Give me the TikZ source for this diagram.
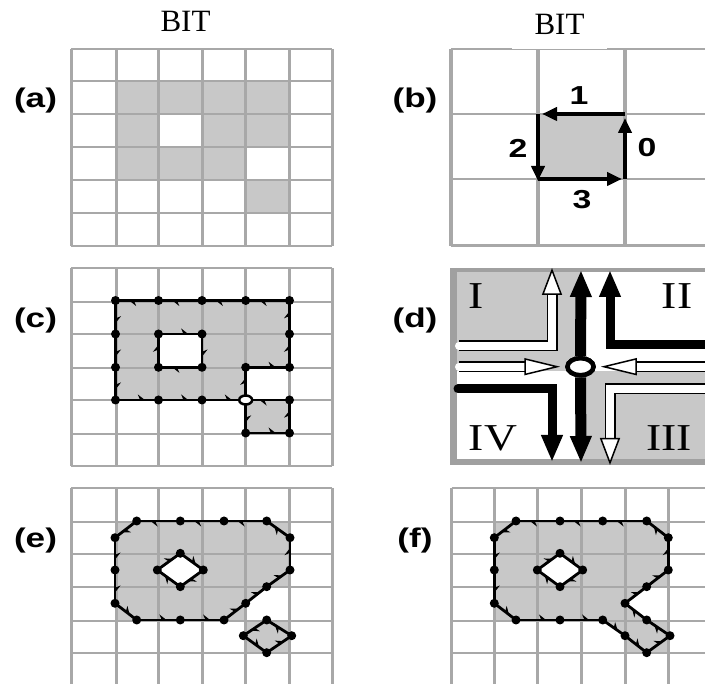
\documentclass[tikz,border=0pt]{standalone}
\usepackage{fontspec}
\usepackage{xcolor}
\usetikzlibrary{
  arrows.meta,
  decorations.markings,
  shapes.geometric
}
\newfontfamily\panelfont[FakeStretch=1.3]{Liberation Sans}
\newfontfamily\romanfont[FakeStretch=1.2]{Liberation Serif}
\newfontfamily\titlefont{Liberation Serif}
\definecolor{gridgray}{RGB}{168,168,168}
\definecolor{cellgray}{RGB}{200,200,200}
\definecolor{edgegray}{RGB}{160,160,160}
\tikzset{
  gridline/.style={draw=gridgray,line width=2pt},
  gridrise/.style={draw=gridgray,line width=3pt},
  coarseline/.style={draw=gridgray,line width=2.8pt},
  coarserise/.style={draw=gridgray,line width=4pt},
  cell/.style={fill=cellgray},
  contour/.style={draw=black,line width=2.8pt,postaction={decorate,decoration={markings,
    mark=at position 0.7 with {\arrow{Stealth[harpoon,length=7pt,width=11pt]}}}}},
  vertex/.style={circle,fill=black,inner sep=0pt,minimum size=9pt},
  openvertex/.style={ellipse,draw=black,fill=white,line width=2.5pt,inner sep=0pt,
    minimum width=13pt,minimum height=9pt},
  hubnode/.style={ellipse,draw=black,fill=white,line width=4.5pt,inner sep=0pt,
    minimum width=26pt,minimum height=17pt},
  edgeflow/.style={draw=black,line width=4pt,-{Triangle[length=15pt,width=13pt]}},
  blackflow/.style={draw=black,line width=9pt,-{Triangle[length=27pt,width=20pt]}},
  whiteflow/.style={draw=white,line width=8pt,line cap=round,
    -{Triangle[length=27pt,width=20pt,color=black,fill=white,line width=1.5pt]},
    preaction={draw=black,line width=11pt,-,shorten >=20pt}},
  whitedart/.style={draw=white,line width=8pt,line cap=round,shorten >=5pt,
    -{Triangle[length=36pt,width=17pt,color=black,fill=white,line width=1.5pt]},
    preaction={draw=black,line width=11pt,-,shorten >=30pt}},
  titlelab/.style={font=\titlefont\fontsize{31}{31}\selectfont,inner sep=0pt},
  panellab/.style={font=\panelfont\bfseries\fontsize{27}{27}\selectfont,inner sep=0pt},
  digitlab/.style={font=\panelfont\bfseries\fontsize{26}{26}\selectfont,inner sep=0pt},
  romanlab/.style={font=\romanfont\fontsize{38}{38}\selectfont,inner sep=0pt}
}

\begin{document}
\begin{tikzpicture}[x=1pt,y=-1pt]
  \useasboundingbox (0,0) rectangle (705,684);
  % panel a
  \fill[cell] (116.5,81) rectangle (289.5,114);
  \fill[cell] (116.5,114) rectangle (158.5,146.7);
  \fill[cell] (202,114) rectangle (289.5,146.7);
  \fill[cell] (116.5,146.7) rectangle (245.7,180);
  \fill[cell] (245.7,180) rectangle (289.5,212.7);
  \foreach \x in {71,116.5,158.5,202,245.7,289.5,332}
    \draw[gridrise] (\x,49) -- (\x,246);
  \foreach \y in {49,81,114,146.7,180,212.7,246}
    \draw[gridline] (71,\y) -- (332,\y);
  % panel b
  \coordinate (tl) at (538,114);
  \coordinate (tr) at (625,114);
  \coordinate (br) at (625,179);
  \coordinate (bl) at (538,179);
  \fill[cell] (tl) rectangle (br);
  \foreach \x in {451,538,625}
    \draw[coarserise] (\x,49) -- (\x,245.6);
  \foreach \y in {49,114,179,245.6}
    \draw[coarseline] (451,\y) -- (705,\y);
  \draw[edgeflow] (br) -- ([yshift=-4pt]tr);
  \draw[edgeflow] (tr) -- ([xshift=4pt]tl);
  \draw[edgeflow] (tl) -- ([yshift=-2pt]bl);
  \draw[edgeflow] (bl) -- ([xshift=-3pt]br);
  \node[digitlab] (one) at (579,96) {1};
  \node[digitlab] (zero) at (647,148) {0};
  \node[digitlab] (two) at (518,148) {2};
  \node[digitlab] (three) at (582,200) {3};
  % panel c
  \foreach \n/\x/\y in {c1/289.5/367.3,c2/289.5/334,c3/289.5/300.5,c4/245.7/300.5,
    c5/202/300.5,c6/158.5/300.5,c7/115.5/300.5,c8/115.5/334,c9/115.5/367.3,
    c10/115.5/400,c11/158.5/400,c12/202/400,c13/245.7/400,c14/245.7/367.3,
    ch1/158.5/334,ch2/202/334,ch3/202/367.3,ch4/158.5/367.3,
    cs1/245.7/400,cs2/245.7/433,cs3/289.5/433,cs4/289.5/400}
    \coordinate (\n) at (\x,\y);
  \fill[cell] (c1) -- (c3) -- (c7) -- (c10) -- (c13) -- (c14) -- cycle;
  \fill[cell] (cs1) rectangle (cs3);
  \fill[white] (ch1) rectangle (ch3);
  \foreach \x in {71,116.5,158.5,202,245.7,289.5,332}
    \draw[gridrise] (\x,268) -- (\x,465.7);
  \foreach \y in {268,301.7,334,367.7,400,433.7,465.7}
    \draw[gridline] (71,\y) -- (332,\y);
  \foreach \i [remember=\i as \j (initially 14)] in {1,...,14}
    \draw[contour] (c\j) -- (c\i);
  \foreach \i [remember=\i as \j (initially 4)] in {1,...,4}
    \draw[contour] (ch\j) -- (ch\i);
  \foreach \i [remember=\i as \j (initially 4)] in {1,...,4}
    \draw[contour] (cs\j) -- (cs\i);
  \foreach \n in {c1,c2,c3,c4,c5,c6,c7,c8,c9,c10,c11,c12,c14,ch1,ch2,ch3,ch4,cs2,cs3,cs4}
    \node[vertex] (v\n) at (\n) {};
  \node[openvertex] (vc13) at (c13) {};
  % panel d
  \fill[cell] (450,268) rectangle (580.5,371);
  \fill[cell] (580.5,371) rectangle (705,465);
  \draw[edgegray,line width=4pt] (450,270) -- (705,270);
  \draw[edgegray,line width=7pt] (453.5,268) -- (453.5,465);
  \draw[edgegray,line width=6pt] (450,462) -- (705,462);
  \coordinate (lefta) at (459,345.7);
  \coordinate (cornera) at (552,345.7);
  \coordinate (tipa) at (552,268);
  \coordinate (cornerb) at (610,345);
  \coordinate (tipb) at (610,270);
  \coordinate (rightb) at (705,345);
  \coordinate (rightc) at (705,389);
  \coordinate (cornerc) at (610,389);
  \coordinate (tipc) at (610,465);
  \coordinate (leftd) at (458,389);
  \coordinate (cornerd) at (552,389);
  \coordinate (tipd) at (552,462);
  \coordinate (upper) at (581,270);
  \coordinate (lower) at (581,463);
  \coordinate (leftm) at (459,366.7);
  \coordinate (rightm) at (710,366.7);
  \node[hubnode] (hub) at (580.5,366.7) {};
  \draw[whiteflow] (lefta) -- (cornera) -- (tipa);
  \draw[blackflow] (rightb) -- (cornerb) -- (tipb);
  \draw[whiteflow] (rightc) -- (cornerc) -- (tipc);
  \draw[blackflow,line cap=round] (leftd) -- (cornerd) -- (tipd);
  \draw[whitedart] (leftm) -- (hub.west);
  \draw[whitedart] (rightm) -- (hub.east);
  \draw[blackflow,line width=11pt] (hub) -- (upper);
  \draw[blackflow,line width=11pt] (hub) -- (lower);
  \node[hubnode] (hubtop) at (hub) {};
  \node[romanlab] (quadi) at (476,296) {I};
  \node[romanlab] (quadii) at (677,296) {II};
  \node[romanlab] (quadiii) at (669,438) {III};
  \node[romanlab] (quadiv) at (493,438) {IV};
  % panel e
  \foreach \n/\x/\y in {e1/290/570,e2/290/537.7,e3/266.7/521,e4/224/521,e5/180.3/521,
    e6/136.7/521,e7/115/537.7,e8/115/570,e9/115/603.3,e10/136.7/620,e11/180.3/620,
    e12/224/620,e13/245.7/603.3,e14/266.7/586.7,
    eh1/180.3/553.3,eh2/203.3/570,eh3/180.3/586.7,eh4/157.3/570,
    es1/266.7/620,es2/243.3/635.7,es3/266.7/652.7,es4/291.7/635.7}
    \coordinate (\n) at (\x,\y);
  \fill[cell] (116.5,521.7) rectangle (289.5,554);
  \fill[cell] (116.5,554) rectangle (289.5,587);
  \fill[cell] (116.5,587) rectangle (245.7,620.7);
  \fill[cell] (245.7,620.7) rectangle (289.5,653);
  \fill[cell] (e1) -- (e2) -- (e3) -- (e6) -- (e7) -- (e9) -- (e10) -- (e12) -- (e14) -- cycle;
  \foreach \x in {71,116.5,158.5,202,245.7,289.5,332}
    \draw[gridrise] (\x,488) -- (\x,684);
  \foreach \y in {488,521.7,554,587,620.7,653}
    \draw[gridline] (71,\y) -- (332,\y);
  \fill[white] (eh1) -- (eh2) -- (eh3) -- (eh4) -- cycle;
  \foreach \i [remember=\i as \j (initially 14)] in {1,...,14}
    \draw[contour] (e\j) -- (e\i);
  \foreach \i [remember=\i as \j (initially 4)] in {1,...,4}
    \draw[contour] (eh\j) -- (eh\i);
  \foreach \i [remember=\i as \j (initially 4)] in {1,...,4}
    \draw[contour] (es\j) -- (es\i);
  \foreach \n in {e1,e2,e3,e4,e5,e6,e7,e8,e9,e10,e11,e12,e13,e14,eh1,eh2,eh3,eh4,es1,es2,es3,es4}
    \node[vertex] (v\n) at (\n) {};
  % panel f
  \foreach \n/\x/\y in {f1/668.3/570,f2/668.3/537.7,f3/646.7/521,f4/602.7/521,f5/560/521,
    f6/516/521,f7/494.3/537.7,f8/494.3/570,f9/494.3/603.3,f10/516/620,f11/560/620,
    f12/602.7/620,f13/625/635.7,f14/646.7/652.7,f15/670/635.7,f16/646.7/620,
    f17/625/603.3,f18/646.7/586.7,
    fh1/560/553.3,fh2/582.7/570,fh3/560/586.7,fh4/537.3/570}
    \coordinate (\n) at (\x,\y);
  \fill[cell] (494.3,521.7) rectangle (668,554);
  \fill[cell] (494.3,554) rectangle (668,587);
  \fill[cell] (494.3,587) rectangle (625,620.7);
  \fill[cell] (625,620.7) rectangle (668,653);
  \fill[cell] (f1) -- (f2) -- (f3) -- (f6) -- (f7) -- (f9) -- (f10) -- (f12) -- (f14) -- (f15) -- (f17) -- (f18) -- cycle;
  \foreach \x in {451.7,494,537.7,581.7,625,668}
    \draw[gridrise] (\x,488) -- (\x,684);
  \foreach \y in {488,521.7,554,587,620.7,653}
    \draw[gridline] (451.7,\y) -- (705,\y);
  \fill[white] (fh1) -- (fh2) -- (fh3) -- (fh4) -- cycle;
  \foreach \i [remember=\i as \j (initially 18)] in {1,...,18}
    \draw[contour] (f\j) -- (f\i);
  \foreach \i [remember=\i as \j (initially 4)] in {1,...,4}
    \draw[contour] (fh\j) -- (fh\i);
  \foreach \n in {f1,f2,f3,f4,f5,f6,f7,f8,f9,f10,f11,f12,f13,f14,f15,f16,f17,f18,fh1,fh2,fh3,fh4}
    \node[vertex] (v\n) at (\n) {};
  % labels
  \node[titlelab] (bita) at (185.5,21) {BIT};
  \node[titlelab,fill=white,minimum width=95pt,minimum height=49pt] (bitb) at (559.5,24.5) {BIT};
  \node[panellab] (laba) at (35.5,101) {(a)};
  \node[panellab] (labb) at (415,101) {(b)};
  \node[panellab] (labc) at (35.5,320.7) {(c)};
  \node[panellab] (labd) at (415,320.7) {(d)};
  \node[panellab] (labe) at (35.5,541) {(e)};
  \node[panellab] (labf) at (415,541) {(f)};
\end{tikzpicture}
\end{document}
